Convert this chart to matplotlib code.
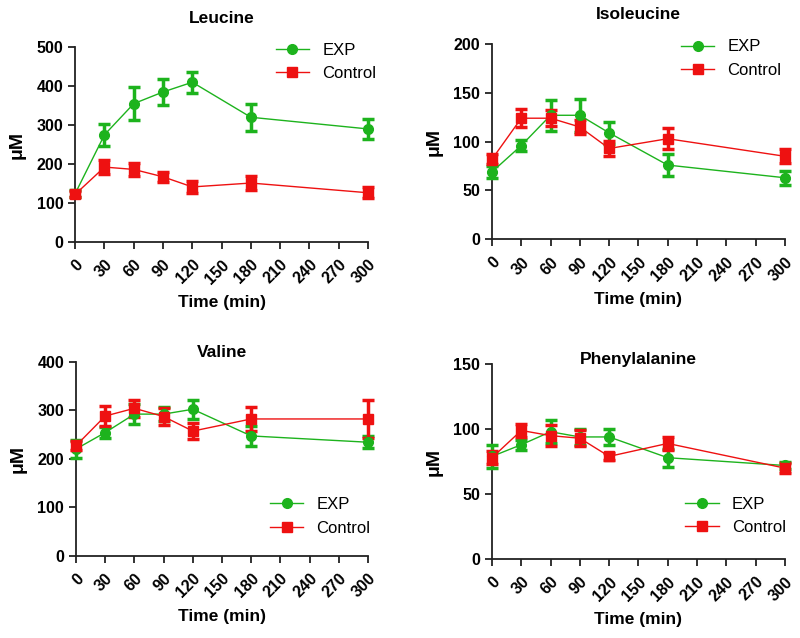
import numpy as np
import matplotlib.pyplot as plt
from matplotlib.lines import Line2D

plt.rcParams['font.family'] = ['Liberation Sans', 'DejaVu Sans']

time = np.array([0, 30, 60, 90, 120, 180, 300])
xticks = np.arange(0, 301, 30)

# Leucine
leu_exp = [124, 275, 355, 385, 410, 320, 290]
leu_exp_err = [8, 28, 42, 34, 27, 35, 25]
leu_ctl = [122, 192, 186, 167, 141, 151, 126]
leu_ctl_err = [8, 18, 16, 13, 15, 17, 14]

# Isoleucine
ile_exp = [69, 96, 127, 127, 109, 76, 63]
ile_exp_err = [6, 6, 16, 17, 11, 11, 7]
ile_ctl = [82, 124, 124, 115, 93, 103, 85]
ile_ctl_err = [5, 9, 8, 7, 8, 11, 7]

# Valine
val_exp = [220, 254, 292, 292, 302, 247, 234]
val_exp_err = [18, 12, 20, 15, 20, 20, 12]
val_ctl = [227, 288, 304, 287, 257, 282, 282]
val_ctl_err = [10, 20, 18, 17, 17, 25, 40]

# Phenylalanine
phe_exp = [79, 88, 98, 94, 94, 78, 72]
phe_exp_err = [9, 4, 9, 6, 6, 7, 3]
phe_ctl = [78, 99, 95, 93, 79, 89, 70]
phe_ctl_err = [5, 5, 8, 6, 3, 5, 4]

green = '#1db31d'
red = '#ee1111'

# title, exp, exp err, ctl, ctl err, ymax, ystep, legend anchor, axes rect, title y
panels = [
    ('Leucine', leu_exp, leu_exp_err, leu_ctl, leu_ctl_err, 500, 100, (1.08, 1.1),
     [0.094, 0.621, 0.366, 0.305], 1.15),
    ('Isoleucine', ile_exp, ile_exp_err, ile_ctl, ile_ctl_err, 200, 50, (1.04, 1.1),
     [0.615, 0.625, 0.366, 0.306], 1.15),
    ('Valine', val_exp, val_exp_err, val_ctl, val_ctl_err, 400, 100, (1.06, 0.026),
     [0.095, 0.129, 0.365, 0.304], 1.05),
    ('Phenylalanine', phe_exp, phe_exp_err, phe_ctl, phe_ctl_err, 150, 50, (1.055, 0.046),
     [0.615, 0.124, 0.366, 0.305], 1.025),
]

fig = plt.figure(figsize=(8, 6.38), dpi=100)

for title, ye, ee, yc, ec, ymax, ystep, anchor, pos, ty in panels:
    ax = fig.add_axes(pos)
    for y, e, c, m in [(ye, ee, green, 'o'), (yc, ec, red, 's')]:
        cont = ax.errorbar(time, y, yerr=e, color=c, marker=m, markersize=7, lw=1,
                           elinewidth=2.5, capsize=4, capthick=2.5, zorder=3)
        for art in cont.get_children():
            art.set_clip_on(False)
    ax.set_xlim(0, 300)
    ax.set_ylim(0, ymax)
    ax.set_xticks(xticks)
    ax.set_yticks(np.arange(0, ymax + 1, ystep))
    ax.spines['top'].set_visible(False)
    ax.spines['right'].set_visible(False)
    for s in ['left', 'bottom']:
        ax.spines[s].set_linewidth(1.3)
        ax.spines[s].set_color('#222222')
    ax.tick_params(width=1.3, length=5, color='#222222', labelsize=11.5)
    ax.tick_params(axis='x', pad=6)
    for lab in ax.get_xticklabels():
        lab.set_rotation(45)
        lab.set_ha('right')
        lab.set_rotation_mode('anchor')
        lab.set_fontweight('bold')
    for lab in ax.get_yticklabels():
        lab.set_fontweight('bold')
    ax.set_xlabel('Time (min)', fontsize=12.5, fontweight='bold', labelpad=6)
    ax.set_ylabel('μM', fontsize=14, fontweight='bold', labelpad=8)
    ax.text(0.5, ty, title, transform=ax.transAxes, ha='center', va='center',
            fontsize=12.5, fontweight='bold')
    handles = [Line2D([], [], color=green, marker='o', markersize=7, lw=1),
               Line2D([], [], color=red, marker='s', markersize=7, lw=1)]
    loc = 'upper right' if anchor[1] > 0.5 else 'lower right'
    ax.legend(handles, ['EXP', 'Control'], loc=loc, bbox_to_anchor=anchor,
              frameon=False, fontsize=12, handlelength=2)

fig.savefig('out.png', dpi=100)
